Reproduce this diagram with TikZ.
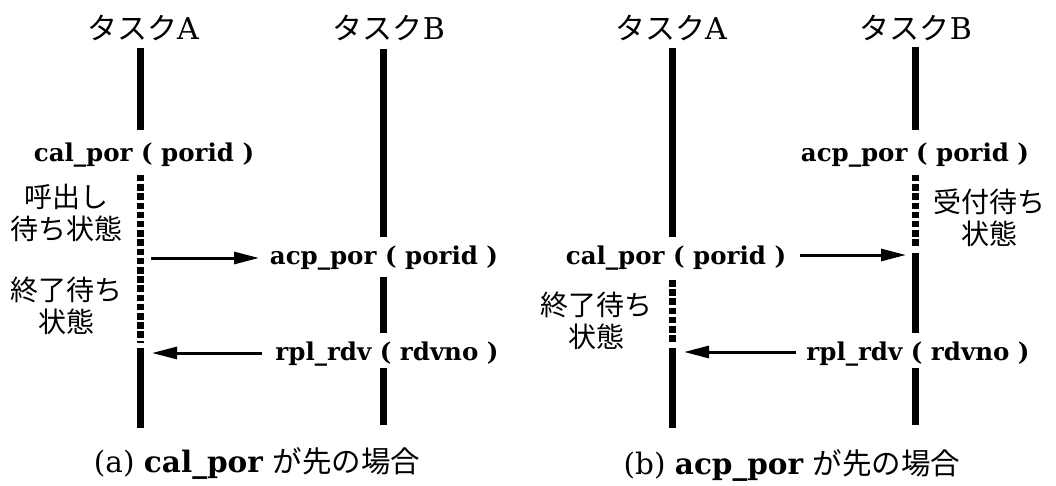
\documentclass[tikz,border=0pt]{standalone}
\usepackage{fontspec}
\setmainfont{DejaVu Serif}
\newfontfamily\jpfont{Noto Sans CJK JP}
\usetikzlibrary{arrows.meta}

\begin{document}
\begin{tikzpicture}[x=1pt, y=-1pt,
    life/.style={line width=7pt},
    waitline/.style={line width=7pt, dash pattern=on 6.5pt off 2.7pt},
    msg/.style={line width=3pt, -{Triangle[length=25pt, width=12pt]}},
    task/.style={font=\fontsize{30}{34}\selectfont},
    call/.style={font=\fontsize{24.5}{28}\selectfont\bfseries},
    state/.style={font=\fontsize{28}{32}\selectfont\jpfont, align=center},
    capt/.style={font=\fontsize{29.5}{34}\selectfont}]
    \useasboundingbox (0,0) rectangle (1056,486); % page

    % (a) cal_por first
    \node[task] (taskA1) at (143,28) {{\jpfont タスク}A};
    \node[task] (taskB1) at (389,28) {{\jpfont タスク}B};
    \node[call] (cal1) at (144,155) {cal\_por ( porid )};
    \node[call] (acp1) at (384,258) {acp\_por ( porid )};
    \node[call] (rpl1) at (387,354) {rpl\_rdv ( rdvno )};
    \node[state] (yobi1) at (66,213) {呼出し\\待ち状態};
    \node[state] (shu1) at (66,306) {終了待ち\\状態};
    \node[capt] (capA) at (257,463) {(a) \textbf{cal\_por} {\jpfont が先の場合}};
    \coordinate (a11) at (140,48);  \coordinate (a12) at (140,130);
    \coordinate (a13) at (140,175); \coordinate (a14) at (140,343);
    \coordinate (a15) at (140,348); \coordinate (a16) at (140,428);
    \coordinate (b11) at (383,49);  \coordinate (b12) at (383,237);
    \coordinate (b13) at (383,277); \coordinate (b14) at (383,333);
    \coordinate (b15) at (383,368); \coordinate (b16) at (383,425);
    \coordinate (s11) at (151,258); \coordinate (e11) at (259,258);
    \coordinate (s12) at (262,353); \coordinate (e12) at (152,353);
    \draw[life] (a11) -- (a12);
    \draw[waitline] (a13) -- (a14);
    \draw[life] (a15) -- (a16);
    \draw[life] (b11) -- (b12);
    \draw[life] (b13) -- (b14);
    \draw[life] (b15) -- (b16);
    \draw[msg] (s11) -- (e11);
    \draw[msg] (s12) -- (e12);

    % (b) acp_por first
    \node[task] (taskA2) at (671,28) {{\jpfont タスク}A};
    \node[task] (taskB2) at (916,28) {{\jpfont タスク}B};
    \node[call] (acp2) at (915,155) {acp\_por ( porid )};
    \node[call] (cal2) at (676,258) {cal\_por ( porid )};
    \node[call] (rpl2) at (918,354) {rpl\_rdv ( rdvno )};
    \node[state] (uke2) at (989,218) {受付待ち\\状態};
    \node[state] (shu2) at (596,321) {終了待ち\\状態};
    \node[capt] (capB) at (792,465) {(b) \textbf{acp\_por} {\jpfont が先の場合}};
    \coordinate (a21) at (672,48);  \coordinate (a22) at (672,237);
    \coordinate (a23) at (672,280); \coordinate (a24) at (672,343);
    \coordinate (a25) at (672,348); \coordinate (a26) at (672,428);
    \coordinate (b21) at (915,47);  \coordinate (b22) at (915,130);
    \coordinate (b23) at (915,175); \coordinate (b24) at (915,248);
    \coordinate (b25) at (915,253); \coordinate (b26) at (915,333);
    \coordinate (b27) at (915,368); \coordinate (b28) at (915,425);
    \coordinate (s21) at (800,255); \coordinate (e21) at (906,255);
    \coordinate (s22) at (796,352); \coordinate (e22) at (684,352);
    \draw[life] (a21) -- (a22);
    \draw[waitline] (a23) -- (a24);
    \draw[life] (a25) -- (a26);
    \draw[life] (b21) -- (b22);
    \draw[waitline] (b23) -- (b24);
    \draw[life] (b25) -- (b26);
    \draw[life] (b27) -- (b28);
    \draw[msg] (s21) -- (e21);
    \draw[msg] (s22) -- (e22);
\end{tikzpicture}
\end{document}
